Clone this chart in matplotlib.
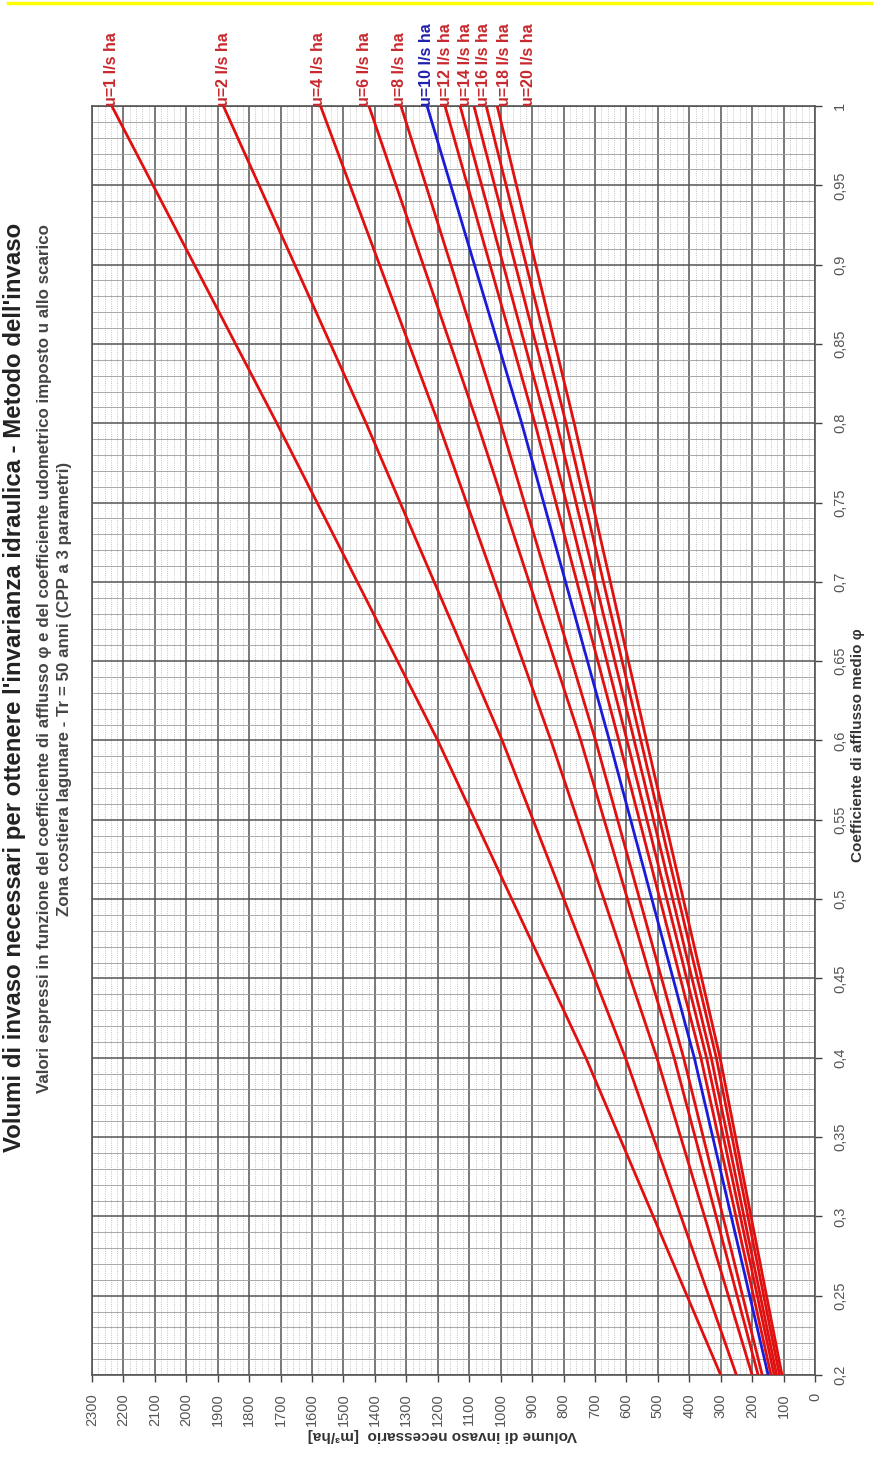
import numpy as np
import matplotlib
matplotlib.use("Agg")
import matplotlib.pyplot as plt
from matplotlib.lines import Line2D
from matplotlib.ticker import MultipleLocator, FuncFormatter

plt.rcParams["font.family"] = ["Liberation Sans", "DejaVu Sans"]

# coefficiente di afflusso (phi) and volumi [m3/ha]
phi = [0.2, 0.4, 0.6, 0.8, 1.0]
u_list = [1, 2, 4, 6, 8, 10, 12, 14, 16, 18, 20]

vol_u1 = [300, 729, 1200, 1712, 2237]
vol_u2 = [250, 603, 995, 1428, 1882]
vol_u4 = [200, 503, 840, 1198, 1573]
vol_u6 = [181, 448, 745, 1074, 1419]
vol_u8 = [168, 418, 698, 1000, 1317]
vol_u10 = [149, 384, 654, 933, 1234]
vol_u12 = [140, 363, 624, 891, 1177]
vol_u14 = [130, 345, 598, 855, 1129]
vol_u16 = [122, 330, 575, 822, 1085]
vol_u18 = [113, 314, 554, 792, 1046]
vol_u20 = [105, 302, 536, 766, 1011]

volumes = [vol_u1, vol_u2, vol_u4, vol_u6, vol_u8, vol_u10,
           vol_u12, vol_u14, vol_u16, vol_u18, vol_u20]
label_x = [2237, 1882, 1581, 1432, 1323, 1237, 1175, 1113, 1053, 989, 913]

RED = "#e01010"
BLUE = "#1a1ad8"
LBL_RED = "#c8282d"
LBL_BLUE = "#2020b0"

fig = plt.figure(figsize=(8.73, 14.62), dpi=100)
ax = fig.add_axes([92 / 873, 1 - 1375 / 1462, 723 / 873, 1269 / 1462])

# chart is drawn rotated: volume runs right->left, phi runs bottom->top
ax.set_xlim(2300, 0)
ax.set_ylim(0.2, 1.0)

ax.xaxis.set_major_locator(MultipleLocator(100))
ax.xaxis.set_minor_locator(MultipleLocator(20))
ax.yaxis.set_major_locator(MultipleLocator(0.05))
ax.yaxis.set_minor_locator(MultipleLocator(0.01))

ax.grid(which="major", color="#555555", lw=1.1)
ax.grid(which="minor", axis="y", color="#9a9a9a", lw=0.6)
ax.grid(which="minor", axis="x", color="#b0b0b0", lw=0.6, ls=":")
ax.set_axisbelow(True)

ax.yaxis.tick_right()
ax.yaxis.set_major_formatter(FuncFormatter(lambda v, p: f"{v:g}".replace(".", ",")))
ax.tick_params(which="minor", length=0)
ax.tick_params(which="major", length=5, width=1.0, color="#444444",
               labelsize=10.5, labelcolor="#555555", pad=8)
for t in ax.get_xticklabels():
    t.set_rotation(90)
for t in ax.get_yticklabels():
    t.set_rotation(90)
    t.set_va("center")
for s in ax.spines.values():
    s.set_color("#555555")
    s.set_linewidth(1.2)

for u, vol, lx in zip(u_list, volumes, label_x):
    col = BLUE if u == 10 else RED
    ax.plot(vol, phi, color=col, lw=2.0, solid_capstyle="butt", zorder=3)
    ax.text(lx, 1.0, f"u={u} l/s ha", rotation=90, ha="center", va="bottom",
            fontsize=11.5, fontweight="bold", color=LBL_BLUE if u == 10 else LBL_RED,
            clip_on=False)

ax.text((442 - 92) / 723, (1375 - 1435) / 1269, "Volume di invaso necessario  [m³/ha]",
        transform=ax.transAxes, rotation=180, ha="center", va="center",
        fontsize=11, fontweight="bold", color="#333333")
ax.text((858 - 92) / 723, 1 - (745 - 106) / 1269, "Coefficiente di afflusso medio φ",
        transform=ax.transAxes, rotation=90, ha="center", va="center",
        fontsize=11, fontweight="bold", color="#333333")

fig.text(15 / 873, 1 - 687 / 1462,
         "Volumi di invaso necessari per ottenere l'invarianza idraulica - Metodo dell'invaso",
         rotation=90, ha="center", va="center", fontsize=17.3, fontweight="bold",
         color="#222222")
fig.text(45 / 873, 1 - 659 / 1462,
         "Valori espressi in funzione del coefficiente di afflusso φ e del coefficiente udometrico imposto u allo scarico",
         rotation=90, ha="center", va="center", fontsize=12.2, fontweight="bold", color="#444444")
fig.text(65 / 873, 1 - 689 / 1462,
         "Zona costiera lagunare - Tr = 50 anni (CPP a 3 parametri)",
         rotation=90, ha="center", va="center", fontsize=12.2, fontweight="bold", color="#444444")

# yellow rule at the top of the page
fig.add_artist(Line2D([8 / 873, 1.0], [1 - 3 / 1462, 1 - 3 / 1462],
                      color="#ffff00", lw=2.5, transform=fig.transFigure))

fig.savefig("out.png", dpi=100)
